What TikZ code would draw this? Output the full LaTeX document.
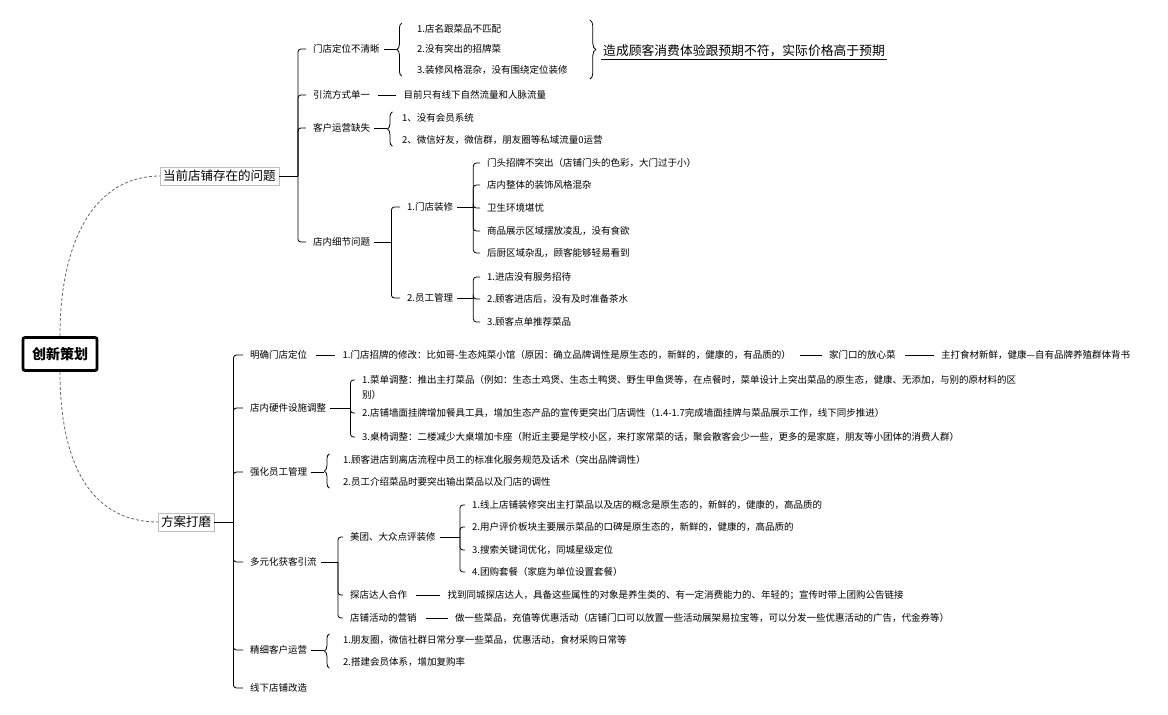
\documentclass[tikz,border=0pt]{standalone}
\usepackage{fontspec}
\setmainfont{Noto Sans CJK SC}
\usetikzlibrary{positioning,decorations.pathreplacing}

\begin{document}
\begin{tikzpicture}[x=1pt,y=-1pt, % 1pt = 1px de la imagen
  leaf/.style={anchor=west,inner xsep=4pt,inner ysep=1.5pt,font=\fontsize{9.5}{13}\selectfont},
  branch/.style={anchor=west,draw=black!25,inner sep=3pt,font=\fontsize{12.5}{15}\selectfont},
  root/.style={draw,line width=2.8pt,rounded corners=2pt,minimum width=74pt,minimum height=33pt,font=\bfseries\fontsize{14}{16}\selectfont},
  link/.style={line width=0.8pt,rounded corners=3pt},
  curly/.style={line width=0.8pt,decorate,decoration={brace,amplitude=5pt}}]
  \useasboundingbox (0,0) rectangle (1168,715);

  \node[root] (r) at (60,354) {创新策划};
  \node[branch] (A) at (160,176) {当前店铺存在的问题};
  \node[branch] (B) at (158,522) {方案打磨};
  \draw[link,densely dashed,black!60] (r.north) .. controls (60,240) and (95,176) .. (A.west);
  \draw[link,densely dashed,black!60] (r.south) .. controls (60,470) and (95,522) .. (B.west);

  % problemas
  \node[leaf] (a1) at (309,49) {门店定位不清晰};
  \node[leaf] (a2) at (309,95) {引流方式单一};
  \node[leaf] (a3) at (309,128) {客户运营缺失};
  \node[leaf] (a4) at (309,242) {店内细节问题};
  \draw[link] (A.east) -- ++(19,0) coordinate (sA);
  \foreach \c in {a1,a2,a3,a4} \draw[link] (sA) |- ([xshift=-3pt]\c.west);

  \node[leaf] (a11) at (413,29) {1.店名跟菜品不匹配};
  \node[leaf] (a12) at (413,49) {2.没有突出的招牌菜};
  \node[leaf] (a13) at (413,70) {3.装修风格混杂，没有围绕定位装修};
  \coordinate (ka1) at ([xshift=18pt]a1.east);
  \draw[curly] (ka1 |- a13.south) -- (ka1 |- a11.north);
  \draw[link] (a1.east) -- ([xshift=-5pt]ka1);
  \coordinate (kr) at ([xshift=18pt]a13.east);
  \draw[curly,decoration={amplitude=6pt}] ([yshift=3pt]kr |- a11.north) -- ([yshift=-3pt]kr |- a13.south);
  \node[anchor=west,inner sep=2pt,font=\fontsize{12.8}{15}\selectfont] (a1x) at (601,51) {造成顾客消费体验跟预期不符，实际价格高于预期};
  \draw[line width=0.8pt] (a1x.south west) -- (a1x.south east);

  \node[leaf,right=25pt of a2] (a21) {目前只有线下自然流量和人脉流量};
  \draw[link] ([xshift=4pt]a2.east) -- ([xshift=-3pt]a21.west);

  \node[leaf] (a31) at (398,118) {1、没有会员系统};
  \node[leaf] (a32) at (398,140) {2、微信好友，微信群，朋友圈等私域流量0运营};
  \coordinate (ka3) at ([xshift=18pt]a3.east);
  \draw[curly] (ka3 |- a32.south) -- (ka3 |- a31.north);
  \draw[link] (a3.east) -- ([xshift=-5pt]ka3);

  \node[leaf] (a41) at (403,207) {1.门店装修};
  \node[leaf] (a42) at (403,298) {2.员工管理};
  \draw[link] (a4.east) -- ++(17,0) coordinate (sa4);
  \foreach \c in {a41,a42} \draw[link] (sa4) |- ([xshift=-3pt]\c.west);

  \node[leaf] (a411) at (483,163) {门头招牌不突出（店铺门头的色彩，大门过于小）};
  \node[leaf] (a412) at (483,185) {店内整体的装饰风格混杂};
  \node[leaf] (a413) at (483,208) {卫生环境堪忧};
  \node[leaf] (a414) at (483,231) {商品展示区域摆放凌乱，没有食欲};
  \node[leaf] (a415) at (483,253) {后厨区域杂乱，顾客能够轻易看到};
  \draw[link] (a41.east) -- ++(16,0) coordinate (sa41);
  \foreach \c in {a411,a412,a413,a414,a415} \draw[link] (sa41) |- ([xshift=-3pt]\c.west);

  \node[leaf] (a421) at (483,277) {1.进店没有服务招待};
  \node[leaf] (a422) at (483,299) {2.顾客进店后，没有及时准备茶水};
  \node[leaf] (a423) at (483,322) {3.顾客点单推荐菜品};
  \draw[link] (a42.east) -- ++(16,0) coordinate (sa42);
  \foreach \c in {a421,a422,a423} \draw[link] (sa42) |- ([xshift=-3pt]\c.west);

  % propuesta
  \node[leaf] (b1) at (246,355) {明确门店定位};
  \node[leaf] (b2) at (246,408) {店内硬件设施调整};
  \node[leaf] (b3) at (246,472) {强化员工管理};
  \node[leaf] (b4) at (246,562) {多元化获客引流};
  \node[leaf] (b5) at (246,650) {精细客户运营};
  \node[leaf] (b6) at (246,688) {线下店铺改造};
  \draw[link] (B.east) -- ++(19,0) coordinate (sB);
  \foreach \c in {b1,b2,b3,b4,b5,b6} \draw[link] (sB) |- ([xshift=-3pt]\c.west);

  \node[leaf,right=27pt of b1] (b11) {1.门店招牌的修改：比如哥-生态炖菜小馆（原因：确立品牌调性是原生态的，新鲜的，健康的，有品质的）};
  \node[leaf,right=30pt of b11] (b12) {家门口的放心菜};
  \node[leaf,right=37pt of b12] (b13) {主打食材新鲜，健康—自有品牌养殖群体背书};
  \draw[link] ([xshift=5pt]b1.east) -- ([xshift=-3pt]b11.west);
  \draw[link] ([xshift=5pt]b11.east) -- ([xshift=-3pt]b12.west);
  \draw[link] ([xshift=5pt]b12.east) -- ([xshift=-3pt]b13.west);

  \node[leaf,align=left,font=\fontsize{9.5}{15}\selectfont] (b21) at (358,387.5) {1.菜单调整：推出主打菜品（例如：生态土鸡煲、生态土鸭煲、野生甲鱼煲等，在点餐时，菜单设计上突出菜品的原生态，健康、无添加，与别的原材料的区\\别）};
  \node[leaf] (b22) at (358,413) {2.店铺墙面挂牌增加餐具工具，增加生态产品的宣传更突出门店调性（1.4-1.7完成墙面挂牌与菜品展示工作，线下同步推进）};
  \node[leaf] (b23) at (358,437) {3.桌椅调整：二楼减少大桌增加卡座（附近主要是学校小区，来打家常菜的话，聚会散客会少一些，更多的是家庭，朋友等小团体的消费人群）};
  \draw[link] (b2.east) -- ++(20,0) coordinate (sb2);
  \draw[link] (sb2) |- ([xshift=-3pt,yshift=7.5pt]b21.west);
  \foreach \c in {b22,b23} \draw[link] (sb2) |- ([xshift=-3pt]\c.west);

  \node[leaf] (b31) at (339,460) {1.顾客进店到离店流程中员工的标准化服务规范及话术（突出品牌调性）};
  \node[leaf] (b32) at (339,482) {2.员工介绍菜品时要突出输出菜品以及门店的调性};
  \coordinate (kb3) at ([xshift=18pt]b3.east);
  \draw[curly] (kb3 |- b32.south) -- (kb3 |- b31.north);
  \draw[link] (b3.east) -- ([xshift=-5pt]kb3);

  \node[leaf] (b41) at (346,537) {美团、大众点评装修};
  \node[leaf] (b42) at (346,595) {探店达人合作};
  \node[leaf] (b43) at (346,618) {店铺活动的营销};
  \draw[link] (b4.east) -- ++(17,0) coordinate (sb4);
  \foreach \c in {b41,b42,b43} \draw[link] (sb4) |- ([xshift=-3pt]\c.west);

  \node[leaf] (b411) at (468,505) {1.线上店铺装修突出主打菜品以及店的概念是原生态的，新鲜的，健康的，高品质的};
  \node[leaf] (b412) at (468,527) {2.用户评价板块主要展示菜品的口碑是原生态的，新鲜的，健康的，高品质的};
  \node[leaf] (b413) at (468,550) {3.搜索关键词优化，同城星级定位};
  \node[leaf] (b414) at (468,572) {4.团购套餐（家庭为单位设置套餐）};
  \draw[link] (b41.east) -- ++(20,0) coordinate (sb41);
  \foreach \c in {b411,b412,b413,b414} \draw[link] (sb41) |- ([xshift=-3pt]\c.west);

  \node[leaf,right=32pt of b42] (b421) {找到同城探店达人，具备这些属性的对象是养生类的、有一定消费能力的、年轻的；宣传时带上团购公告链接};
  \draw[link] ([xshift=5pt]b42.east) -- ([xshift=-3pt]b421.west);
  \node[leaf,right=30pt of b43] (b431) {做一些菜品，充值等优惠活动（店铺门口可以放置一些活动展架易拉宝等，可以分发一些优惠活动的广告，代金券等）};
  \draw[link] ([xshift=5pt]b43.east) -- ([xshift=-3pt]b431.west);

  \node[leaf] (b51) at (339,640) {1.朋友圈，微信社群日常分享一些菜品，优惠活动，食材采购日常等};
  \node[leaf] (b52) at (339,662) {2.搭建会员体系，增加复购率};
  \coordinate (kb5) at ([xshift=18pt]b5.east);
  \draw[curly] (kb5 |- b52.south) -- (kb5 |- b51.north);
  \draw[link] (b5.east) -- ([xshift=-5pt]kb5);
\end{tikzpicture}
\end{document}
